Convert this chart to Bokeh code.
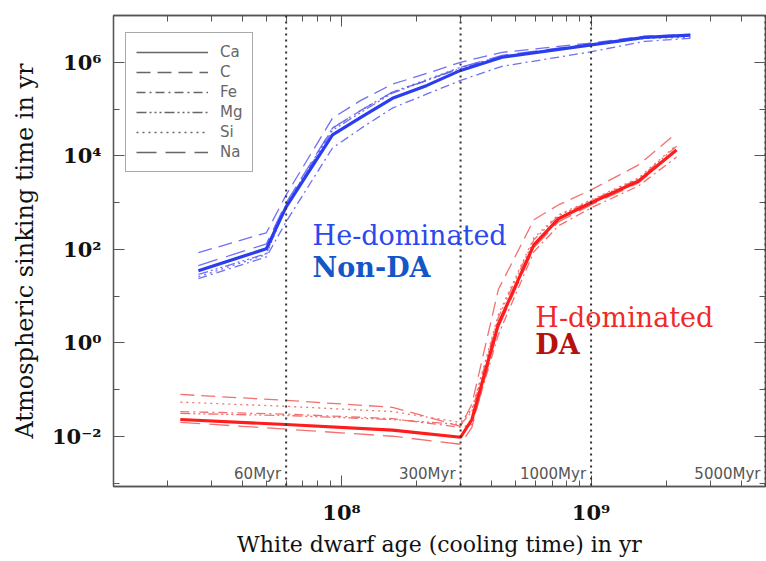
from bokeh.plotting import figure
from bokeh.models import (FixedTicker, LogAxis, Span, Label, Legend, LegendItem,
                          CustomJSTickFormatter, Range1d)
from bokeh.embed import file_html
from bokeh.resources import INLINE

# ---------------- data ----------------
elements = ["Ca", "C", "Fe", "Mg", "Si", "Na"]

# He-dominated (non-DA) white dwarfs
he_age = [2.67e7, 5.0e7, 6.0e7, 9.2e7, 1.2e8, 1.6e8, 2.2e8, 3.0e8, 4.4e8, 9.7e8, 1.64e9, 2.5e9]
he_Ca = [35, 103, 810, 2.8e4, 6.7e4, 1.7e5, 3.2e5, 6.7e5, 1.28e6, 2.3e6, 3.4e6, 3.8e6]
he_C = [85, 226, 1460, 6.4e4, 1.55e5, 3.4e5, 5.8e5, 1.0e6, 1.63e6, 2.54e6, 3.6e6, 3.95e6]
he_Fe = [23.6, 69, 390, 1.47e4, 3.9e4, 1.05e5, 2.1e5, 4.1e5, 8.2e5, 1.63e6, 2.8e6, 3.25e6]
he_Mg = [29, 81, 890, 3.5e4, 8.6e4, 2.2e5, 4.1e5, 7.4e5, 1.34e6, 2.3e6, 3.4e6, 3.6e6]
he_Si = [26, 77, 850, 3.9e4, 9.5e4, 2.3e5, 4.3e5, 7.8e5, 1.34e6, 2.3e6, 3.25e6, 3.4e6]
he_Na = [45, 131, 990, 3.9e4, 9.5e4, 2.3e5, 4.1e5, 7.8e5, 1.41e6, 2.42e6, 3.4e6, 3.8e6]

# H-dominated (DA) white dwarfs
da_age = [2.26e7, 6.0e7, 1.6e8, 3.0e8, 3.33e8, 4.25e8, 5.9e8, 7.4e8, 1.0e9, 1.55e9, 2.2e9]
da_Ca = [0.023, 0.018, 0.0136, 0.0096, 0.023, 2.5, 125, 450, 990, 2900, 1.33e4]
da_C = [0.079, 0.059, 0.042, 0.0165, 0.049, 13.8, 430, 890, 1870, 6400, 3.06e4]
da_Fe = [0.034, 0.030, 0.024, 0.0157, 0.018, 1.5, 89, 318, 770, 2270, 9400]
da_Mg = [0.031, 0.028, 0.023, 0.018, 0.034, 3.5, 160, 520, 1090, 3200, 1.6e4]
da_Si = [0.054, 0.044, 0.034, 0.020, 0.038, 4.0, 177, 547, 1140, 3370, 1.7e4]
da_Na = [0.020, 0.0143, 0.0101, 0.0068, 0.0157, 2.1, 108, 387, 890, 2630, 1.33e4]

marker_ages = [6.0e7, 3.0e8, 1.0e9, 5.0e9]
marker_labels = ["60Myr", "300Myr", "1000Myr", "5000Myr"]

x_major = [1e8, 1e9]
x_minor = [2e7, 3e7, 4e7, 5e7, 6e7, 7e7, 8e7, 9e7,
           2e8, 3e8, 4e8, 5e8, 6e8, 7e8, 8e8, 9e8,
           2e9, 3e9, 4e9]
y_major = [1e-2, 1e0, 1e2, 1e4, 1e6]
y_minor = [1e-3, 1e-1, 1e1, 1e3, 1e5, 1e7]

# ---------------- styles ----------------
dashes = {"Ca": "solid", "C": "14 7", "Fe": "9 4 2 4", "Mg": "10 3 2 3 2 3 2 3",
          "Si": "2 4", "Na": "20 9"}

he = {"Ca": he_Ca, "C": he_C, "Fe": he_Fe, "Mg": he_Mg, "Si": he_Si, "Na": he_Na}
da = {"Ca": da_Ca, "C": da_C, "Fe": da_Fe, "Mg": da_Mg, "Si": da_Si, "Na": da_Na}

p = figure(width=766, height=561, x_axis_type="log", y_axis_type="log",
           x_range=Range1d(1.22e7, 5.0e9), y_range=Range1d(8.5e-4, 1.0e7),
           output_backend="svg", toolbar_location=None,
           min_border_left=113, min_border_right=1, min_border_top=15, min_border_bottom=75)
p.background_fill_color = "white"
p.border_fill_color = "white"
p.xgrid.visible = False
p.ygrid.visible = False
p.outline_line_color = "#555555"
p.outline_line_width = 1.3

sup_js = """
const sup = {"-":"\u207b","0":"\u2070","1":"\u00b9","2":"\u00b2","3":"\u00b3","4":"\u2074",
             "5":"\u2075","6":"\u2076","7":"\u2077","8":"\u2078","9":"\u2079"};
const e = Math.round(Math.log10(tick));
return "10" + String(e).split("").map(c => sup[c]).join("");
"""
fmt = CustomJSTickFormatter(code=sup_js)
blank = CustomJSTickFormatter(code="return '';")

def style_axis(ax, show_labels):
    ax.axis_line_color = "#555555"
    ax.axis_line_width = 1.3
    ax.major_tick_line_color = "#555555"
    ax.minor_tick_line_color = "#555555"
    ax.major_tick_in = 11
    ax.major_tick_out = 0
    ax.minor_tick_in = 6
    ax.minor_tick_out = 0
    if show_labels:
        ax.major_label_text_font = "DejaVu Serif"
        ax.major_label_text_font_style = "bold"
        ax.major_label_text_font_size = "21px"
        ax.major_label_text_color = "#111111"
        ax.axis_label_text_font = "DejaVu Serif"
        ax.axis_label_text_font_style = "normal"
        ax.axis_label_text_color = "#111111"
    else:
        ax.formatter = blank
        ax.major_label_standoff = 0

xa = p.xaxis[0]
xa.ticker = FixedTicker(ticks=x_major, minor_ticks=x_minor)
xa.formatter = fmt
xa.axis_label = "White dwarf age (cooling time) in yr"
style_axis(xa, True)
xa.axis_label_text_font_size = "22px"
xa.major_label_standoff = 13
xa.axis_label_standoff = 4

ya = p.yaxis[0]
ya.ticker = FixedTicker(ticks=y_major, minor_ticks=y_minor)
ya.formatter = fmt
ya.axis_label = "Atmospheric sinking time in yr"
style_axis(ya, True)
ya.axis_label_text_font_size = "24px"
ya.major_label_standoff = 12
ya.axis_label_standoff = 10

top = LogAxis(ticker=FixedTicker(ticks=x_major, minor_ticks=x_minor))
style_axis(top, False)
p.add_layout(top, "above")
right = LogAxis(ticker=FixedTicker(ticks=y_major, minor_ticks=y_minor))
style_axis(right, False)
p.add_layout(right, "right")

# vertical age markers
for a, lab in zip(marker_ages, marker_labels):
    p.add_layout(Span(location=a, dimension="height", line_color="#333333",
                      line_width=2, line_dash="2 4"))
    p.add_layout(Label(x=a, y=1.55e-3, x_offset=-5, text=lab, text_align="right",
                       text_baseline="alphabetic", text_font="DejaVu Sans",
                       text_font_size="15px", text_color="#555555"))

# curves: thin first, Ca (thick) last
for el in ["C", "Fe", "Mg", "Si", "Na"]:
    p.line(he_age, he[el], line_color="#5f61f2", line_width=1.3, line_dash=dashes[el], line_alpha=0.9)
    p.line(da_age, da[el], line_color="#f26060", line_width=1.3, line_dash=dashes[el], line_alpha=0.9)
p.line(he_age, he_Ca, line_color="#2a3ef0", line_width=3.2)
p.line(da_age, da_Ca, line_color="#ff1c1c", line_width=3.2)

# annotations
p.add_layout(Label(x=7.66e7, y=195, text="He-dominated", text_font="DejaVu Serif",
                   text_font_size="27px", text_color="#2a48ef", text_baseline="alphabetic"))
p.add_layout(Label(x=7.66e7, y=40, text="Non-DA", text_font="DejaVu Serif", text_font_style="bold",
                   text_font_size="27px", text_color="#1456c8", text_baseline="alphabetic"))
p.add_layout(Label(x=5.98e8, y=3.5, text="H-dominated", text_font="DejaVu Serif",
                   text_font_size="27px", text_color="#f02a2a", text_baseline="alphabetic"))
p.add_layout(Label(x=5.98e8, y=0.92, text="DA", text_font="DejaVu Serif", text_font_style="bold",
                   text_font_size="27px", text_color="#b5120f", text_baseline="alphabetic"))

# legend (gray samples of the line styles; single-point lines draw nothing in the plot)
items = []
for el in elements:
    r = p.line([1e8], [1.0], line_color="#666666", line_width=1.4, line_dash=dashes[el])
    items.append(LegendItem(label=el, renderers=[r]))
legend = Legend(items=items, location=(12, 314), margin=0, glyph_width=72, glyph_height=18,
                label_height=18, label_width=20, spacing=2, padding=10, label_standoff=12,
                border_line_color="#555555", border_line_width=1.2,
                label_text_color="#666666", label_text_font="DejaVu Sans",
                label_text_font_size="15px", background_fill_alpha=1.0)
p.add_layout(legend)

open("out.html", "w").write(file_html(p, INLINE))
